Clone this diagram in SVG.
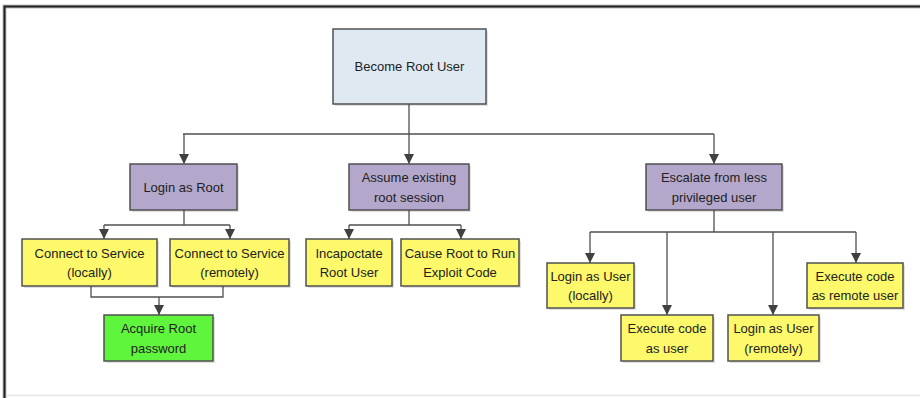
<svg xmlns="http://www.w3.org/2000/svg" width="920" height="398" viewBox="0 0 920 398">
  <defs>
    <marker id="arrow" viewBox="0 0 10 10" refX="10" refY="5" markerWidth="10" markerHeight="10" markerUnits="userSpaceOnUse" orient="auto">
      <path d="M0,0 L10,5 L0,10 Z" fill="#404040"/>
    </marker>
    <style>
      .shadow { fill: #000; opacity: 0.12; }
      .box { stroke: #505050; stroke-width: 1.5; }
      .root { fill: #dfe9f2; }
      .goal { fill: #b4a7cc; }
      .step { fill: #fdf96a; }
      .final { fill: #5ff53c; }
      .label { font-family: "Liberation Sans", Arial, sans-serif; font-size: 13px; fill: #222222; text-anchor: middle; }
      .link { fill: none; stroke: #505050; stroke-width: 1.3; }
    </style>
  </defs>

  <rect width="920" height="398" fill="#ffffff"/>
  <!-- frame -->
  <path d="M4.5,398 V6.5 H920" fill="none" stroke="#bdbdbd" stroke-width="4"/>
  <path d="M4.5,398 V6.5 H920" fill="none" stroke="#1e1e1e" stroke-width="2"/>
  <line x1="6" y1="395.5" x2="920" y2="395.5" stroke="#e6e6e6" stroke-width="1.5"/>

  <!-- connectors -->
  <g id="connectors">
    <path class="link" d="M409,104 V134 M183,134 H714"/>
    <path class="link" d="M184,134 V164" marker-end="url(#arrow)"/>
    <path class="link" d="M409,134 V164" marker-end="url(#arrow)"/>
    <path class="link" d="M714,134 V164" marker-end="url(#arrow)"/>

    <path class="link" d="M184,210 V225 M104,225 H230"/>
    <path class="link" d="M104,225 V239" marker-end="url(#arrow)"/>
    <path class="link" d="M230,225 V239" marker-end="url(#arrow)"/>
    <path class="link" d="M91,286 V297 H223 V286"/>
    <path class="link" d="M159,297 V315" marker-end="url(#arrow)"/>

    <path class="link" d="M409,210 V225 M349,225 H461"/>
    <path class="link" d="M349,225 V239" marker-end="url(#arrow)"/>
    <path class="link" d="M461,225 V239" marker-end="url(#arrow)"/>

    <path class="link" d="M714,210 V232 M590,232 H856"/>
    <path class="link" d="M590,232 V263" marker-end="url(#arrow)"/>
    <path class="link" d="M667,232 V315" marker-end="url(#arrow)"/>
    <path class="link" d="M773,232 V315" marker-end="url(#arrow)"/>
    <path class="link" d="M856,232 V263" marker-end="url(#arrow)"/>
  </g>

  <g id="become-root-user">
    <rect class="shadow" x="335" y="31" width="153" height="75"/>
    <rect class="box root" x="333" y="29" width="153" height="75"/>
    <text class="label" x="409.5" y="71">Become Root User</text>
  </g>

  <g id="login-as-root">
    <rect class="shadow" x="132" y="166" width="107" height="46"/>
    <rect class="box goal" x="130" y="164" width="107" height="46"/>
    <text class="label" x="183.5" y="191.5">Login as Root</text>
  </g>

  <g id="assume-root-session">
    <rect class="shadow" x="351" y="166" width="120" height="46"/>
    <rect class="box goal" x="349" y="164" width="120" height="46"/>
    <text class="label" x="409" y="181.5">Assume existing</text>
    <text class="label" x="409" y="201.5">root session</text>
  </g>

  <g id="escalate-user">
    <rect class="shadow" x="648" y="166" width="136" height="46"/>
    <rect class="box goal" x="646" y="164" width="136" height="46"/>
    <text class="label" x="714" y="181.5">Escalate from less</text>
    <text class="label" x="714" y="201.5">privileged user</text>
  </g>

  <g id="connect-service-local">
    <rect class="shadow" x="24" y="241" width="135" height="47"/>
    <rect class="box step" x="22" y="239" width="135" height="47"/>
    <text class="label" x="89.5" y="257.5">Connect to Service</text>
    <text class="label" x="89.5" y="277">(locally)</text>
  </g>

  <g id="connect-service-remote">
    <rect class="shadow" x="172" y="241" width="119" height="47"/>
    <rect class="box step" x="170" y="239" width="119" height="47"/>
    <text class="label" x="229.5" y="257.5">Connect to Service</text>
    <text class="label" x="229.5" y="277">(remotely)</text>
  </g>

  <g id="acquire-root-password">
    <rect class="shadow" x="106" y="317" width="109" height="46"/>
    <rect class="box final" x="104" y="315" width="109" height="46"/>
    <text class="label" x="158.5" y="333">Acquire Root</text>
    <text class="label" x="158.5" y="353">password</text>
  </g>

  <g id="incapacitate-root">
    <rect class="shadow" x="308" y="241" width="86" height="47"/>
    <rect class="box step" x="306" y="239" width="86" height="47"/>
    <text class="label" x="349" y="257.5">Incapoctate</text>
    <text class="label" x="349" y="277">Root User</text>
  </g>

  <g id="root-runs-exploit">
    <rect class="shadow" x="403" y="241" width="118" height="47"/>
    <rect class="box step" x="401" y="239" width="118" height="47"/>
    <text class="label" x="460" y="257.5">Cause Root to Run</text>
    <text class="label" x="460" y="277">Exploit Code</text>
  </g>

  <g id="login-user-local">
    <rect class="shadow" x="549" y="265" width="87" height="45"/>
    <rect class="box step" x="547" y="263" width="87" height="45"/>
    <text class="label" x="590.5" y="280.5">Login as User</text>
    <text class="label" x="590.5" y="300">(locally)</text>
  </g>

  <g id="execute-code-user">
    <rect class="shadow" x="623" y="317" width="92" height="46"/>
    <rect class="box step" x="621" y="315" width="92" height="46"/>
    <text class="label" x="667" y="333">Execute code</text>
    <text class="label" x="667" y="353">as user</text>
  </g>

  <g id="login-user-remote">
    <rect class="shadow" x="730" y="317" width="91" height="46"/>
    <rect class="box step" x="728" y="315" width="91" height="46"/>
    <text class="label" x="773.5" y="333">Login as User</text>
    <text class="label" x="773.5" y="353">(remotely)</text>
  </g>

  <g id="execute-code-remote">
    <rect class="shadow" x="809" y="265" width="96" height="45"/>
    <rect class="box step" x="807" y="263" width="96" height="45"/>
    <text class="label" x="855" y="280.5">Execute code</text>
    <text class="label" x="855" y="300">as remote user</text>
  </g>
</svg>
